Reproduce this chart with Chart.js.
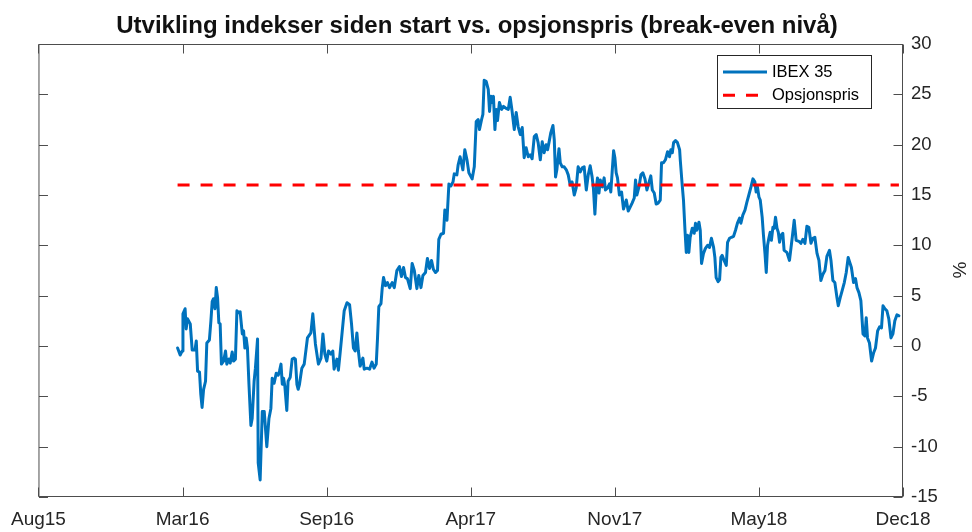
<!DOCTYPE html>
<html>
<head>
<meta charset="utf-8">
<title>IBEX 35 vs opsjonspris</title>
<script src="https://cdn.jsdelivr.net/npm/chart.js@4.4.0/dist/chart.umd.min.js"></script>
<style>
  html, body { margin: 0; padding: 0; background: #fff; }
</style>
</head>
<body>
<canvas id="chart" width="972" height="532"></canvas>
<script>
// x values are months counted from the Aug15 tick
const tickLabels = ["Aug15", "Mar16", "Sep16", "Apr17", "Nov17", "May18", "Dec18"];
const xMin = -0.08;
const xMax = 40.13;

const breakEvenLevel = 16;
const breakEvenSpan = [6.39, 39.94];

const months = [
  6.39, 6.51, 6.60, 6.64, 6.74, 6.79, 6.85, 6.98, 7.07, 7.20, 7.26, 7.32, 7.41, 7.47, 7.53,
  7.60, 7.69, 7.75, 7.87, 7.94, 8.00, 8.06, 8.13, 8.19, 8.25, 8.31, 8.37, 8.43, 8.53, 8.62,
  8.68, 8.78, 8.84, 8.93, 8.99, 9.08, 9.15, 9.24, 9.30, 9.40, 9.46, 9.52, 9.58, 9.64, 9.71,
  9.80, 9.86, 9.95, 10.01, 10.11, 10.14, 10.23, 10.33, 10.42, 10.54, 10.64, 10.73, 10.79, 10.88, 10.98,
  11.07, 11.13, 11.20, 11.26, 11.32, 11.38, 11.47, 11.53, 11.63, 11.72, 11.81, 11.87, 11.94, 12.00, 12.06,
  12.17, 12.28, 12.43, 12.59, 12.68, 12.80, 12.94, 13.06, 13.15, 13.24, 13.33, 13.41, 13.52, 13.61, 13.67,
  13.80, 13.87, 13.95, 14.05, 14.14, 14.27, 14.39, 14.48, 14.57, 14.65, 14.73, 14.80, 14.88, 15.01, 15.07,
  15.20, 15.32, 15.43, 15.53, 15.63, 15.69, 15.75, 15.85, 15.91, 15.97, 16.06, 16.15, 16.25, 16.37, 16.47,
  16.59, 16.71, 16.80, 16.90, 16.99, 17.08, 17.21, 17.30, 17.40, 17.52, 17.61, 17.71, 17.80, 17.92, 18.01,
  18.11, 18.20, 18.29, 18.39, 18.48, 18.54, 18.64, 18.76, 18.82, 18.92, 19.01, 19.10, 19.20, 19.26, 19.38,
  19.44, 19.53,
  19.66, 19.75, 19.85, 19.94, 20.09, 20.19, 20.28, 20.37, 20.43, 20.53, 20.59, 20.65, 20.74, 20.84, 20.90,
  20.96, 21.02, 21.08, 21.15, 21.21, 21.27, 21.36, 21.46, 21.55, 21.67, 21.77, 21.86, 21.95, 22.05, 22.14,
  22.23, 22.33, 22.42, 22.51, 22.60, 22.70, 22.79, 22.88, 22.98, 23.07, 23.16, 23.26, 23.35, 23.44, 23.53,
  23.60, 23.69, 23.75, 23.85, 23.91, 23.97, 24.03, 24.13, 24.19, 24.28, 24.37, 24.47, 24.56, 24.65, 24.74,
  24.84, 24.93, 25.02, 25.12, 25.21, 25.30, 25.40, 25.49, 25.58, 25.67, 25.73, 25.80, 25.86, 25.92, 25.99,
  26.05, 26.14, 26.23, 26.29, 26.39, 26.48, 26.54, 26.60, 26.67, 26.73, 26.79, 26.85, 26.94, 27.04,
  27.13, 27.26, 27.35, 27.44, 27.53, 27.63, 27.69, 27.75, 27.85, 27.94, 28.03, 28.13, 28.22, 28.31, 28.40,
  28.47, 28.56, 28.65, 28.74, 28.84, 28.90, 28.99, 29.08, 29.18, 29.27, 29.33, 29.40, 29.46, 29.55, 29.64,
  29.74, 29.77, 29.86, 29.92, 29.99, 30.05, 30.11, 30.17, 30.23, 30.33, 30.42, 30.48, 30.54, 30.64, 30.70,
  30.76, 30.85, 30.94, 31.04, 31.13, 31.22, 31.32, 31.38, 31.44, 31.53, 31.60, 31.66, 31.72, 31.81, 31.91,
  31.97, 32.06, 32.15, 32.25, 32.34, 32.43, 32.53, 32.59, 32.68, 32.78, 32.87, 32.96, 33.06, 33.15, 33.24,
  33.30, 33.36, 33.43, 33.49, 33.58, 33.64, 33.71, 33.77, 33.83, 33.89, 33.95, 34.01, 34.08, 34.14, 34.20,
  34.27, 34.33, 34.39,
  34.45, 34.54, 34.60, 34.73, 34.85, 34.98, 35.07, 35.16, 35.29, 35.38, 35.47, 35.57, 35.66, 35.75, 35.85,
  35.94, 36.03, 36.13, 36.22, 36.31, 36.40, 36.50, 36.59, 36.71, 36.78, 36.87, 36.96, 37.06, 37.12, 37.21,
  37.30, 37.40, 37.49, 37.58, 37.67, 37.73, 37.83, 37.92, 37.99, 38.08, 38.17, 38.27, 38.36, 38.42, 38.48,
  38.57, 38.67, 38.76, 38.85, 38.95, 39.04, 39.13, 39.20, 39.29, 39.38, 39.47, 39.57, 39.66, 39.75, 39.85,
  39.94
];

// IBEX 35, % change since start
const ibex = [
  -0.2, -0.9, -0.5, 3.2, 3.7, 1.7, 2.7, 2.2, -0.4, -0.4, 0.5, -2.5, -2.6, -4.8, -6.1,
  -4.3, -3.5, 0.3, 0.6, 2.5, 4.4, 4.7, 3.7, 5.8, 4.8, 2.3, 2.2, -1.8, -1.5, -0.5,
  -1.8, -1.3, -1.7, -0.6, -1.5, -1.3, 3.5, 3.3, 3.4, 1.2, 1.5, -0.2, 0.8, -0.2, -3.8,
  -7.9, -7.2, -3.5, -2.2, 0.7, -11.6, -13.3, -6.5, -6.5, -10.0, -7.2, -6.2, -3.2, -3.7, -2.7,
  -2.9, -2.5, -1.8, -3.8, -3.2, -4.0, -6.4, -3.5, -3.1, -1.3, -1.2, -1.3, -3.8, -4.3, -3.8,
  -2.2, -1.8, 0.8, 1.3, 3.2, 0.2, -1.8, -1.2, 1.2, -0.8, -1.5, -0.5, -0.8, -0.5, -2.3,
  -1.3, -2.4, -0.7, 1.5, 3.5, 4.3, 4.1, 2.2, -0.2, -0.5, 1.3, -0.5, -2.0, -1.2, -2.3,
  -2.2, -2.3, -1.6, -2.2, -1.8, 0.8, 3.9, 4.2, 5.8, 6.8, 6.0, 6.3, 5.8, 6.3, 5.8,
  7.5, 7.9, 6.9, 7.8, 6.8, 6.7, 5.7, 8.2, 7.5, 5.7, 7.0, 5.8, 7.0, 7.3, 8.7,
  7.7, 8.5, 7.6, 7.3, 7.5, 10.6, 11.1, 11.2, 13.5, 12.5, 16.1, 15.9, 16.3, 17.1, 17.0,
  18.0, 18.8,
  17.5, 19.5, 18.5, 17.2, 16.6, 17.8, 22.3, 22.5, 21.5, 22.5, 23.0, 26.4, 26.3, 25.5, 23.3,
  24.8, 24.2, 24.8, 21.5, 23.5, 22.4, 24.2, 23.5, 23.8, 23.6, 23.5, 24.7, 23.3, 21.5, 23.2,
  21.8, 21.0, 21.7, 18.7, 19.7, 18.8, 19.0, 18.6, 20.8, 21.0, 20.2, 18.5, 20.3, 19.2, 20.0,
  19.5, 20.5, 21.2, 21.9, 20.5, 16.8, 17.5, 19.6, 18.2, 17.8, 17.8, 17.5, 17.0, 16.0, 16.3,
  15.0, 15.7, 17.8, 17.3, 17.7, 17.8, 15.5, 17.0, 17.9, 16.8, 15.7, 13.1, 15.5, 16.7, 15.2,
  16.5, 15.8, 16.7, 15.5, 15.7, 16.1, 15.3, 17.2, 19.4, 18.7, 17.2, 16.7, 15.0, 15.3,
  13.6, 14.5, 13.4, 13.8, 14.2, 14.7, 16.5, 15.0, 15.8, 17.0, 17.2, 16.6, 15.5, 16.2, 16.9,
  15.5, 15.2, 14.1, 14.2, 14.5, 18.2, 18.2, 18.5, 19.3, 18.8, 19.5, 19.2, 20.2, 20.4, 20.2,
  19.5, 18.5, 16.0, 14.5, 11.5, 9.3, 11.0, 9.3, 10.8, 11.7, 11.2, 12.2, 11.5, 12.3, 11.5,
  8.2, 9.2, 9.7, 10.0, 9.8, 10.7, 9.8, 8.8, 6.8, 6.4, 6.6, 8.8, 9.0, 8.5, 8.0,
  10.3, 10.7, 10.8, 10.9, 11.5, 12.2, 12.7, 12.2, 13.0, 13.5, 14.3, 15.0, 15.8, 16.6, 16.3,
  15.3, 15.8, 14.8, 14.5, 12.8, 11.0, 9.2, 7.3, 10.0, 10.7, 11.3, 10.5, 11.8, 11.7, 12.8,
  11.7, 11.3, 10.3,
  11.0, 11.2, 9.5, 9.3, 8.5, 10.8, 12.5, 10.5, 10.4, 10.2, 10.6, 10.2, 11.9, 11.8, 10.2,
  10.7, 10.8, 9.2, 8.5, 6.5, 7.1, 7.5, 8.9, 9.5, 8.5, 6.5, 6.3, 4.8, 4.0, 4.8,
  5.5, 6.3, 7.3, 8.8, 8.2, 7.8, 6.3, 6.7, 5.8, 5.3, 4.5, 1.2, 1.0, 2.8, 0.8,
  0.3, -1.5, -0.7, -0.2, 1.5, 1.9, 1.8, 4.0, 3.7, 3.5, 2.7, 0.8, 1.2, 2.5, 3.1,
  3.0
];

const font = "'Liberation Sans', Arial, Helvetica, sans-serif";
const textColor = "#262626";
const axisColor = "#4d4d4d";

const n = Math.min(months.length, ibex.length);
const ibexPoints = months.slice(0, n).map((m, i) => ({ x: m, y: ibex[i] }));
const breakEvenPoints = breakEvenSpan.map((m) => ({ x: m, y: breakEvenLevel }));

// box, inward ticks, title, legend and y label, MATLAB style
const frame = {
  id: "frame",
  afterDraw(chart) {
    const { ctx, chartArea: a, scales } = chart;
    const L = a.left + 0.5, R = a.right - 0.5, T = a.top + 0.5, B = a.bottom - 0.5;
    ctx.save();
    ctx.strokeStyle = axisColor;
    ctx.lineWidth = 1;
    ctx.strokeRect(L, T, R - L, B - T);

    const tl = 9;
    ctx.beginPath();
    scales.x.ticks.forEach((t) => {
      const px = Math.round(scales.x.getPixelForValue(t.value)) + 0.5;
      ctx.moveTo(px, B); ctx.lineTo(px, B - tl);
      ctx.moveTo(px, T); ctx.lineTo(px, T + tl);
    });
    scales.y.ticks.forEach((t) => {
      const py = Math.round(scales.y.getPixelForValue(t.value)) + 0.5;
      ctx.moveTo(L, py); ctx.lineTo(L + tl, py);
      ctx.moveTo(R, py); ctx.lineTo(R - tl, py);
    });
    ctx.stroke();

    // title
    ctx.fillStyle = "#111";
    ctx.font = "bold 24px " + font;
    ctx.textAlign = "center";
    ctx.textBaseline = "alphabetic";
    ctx.fillText("Utvikling indekser siden start vs. opsjonspris (break-even nivå)", 477, 33);

    // y axis label
    ctx.save();
    ctx.translate(961, 270);
    ctx.rotate(-Math.PI / 2);
    ctx.fillStyle = textColor;
    ctx.font = "19px " + font;
    ctx.textBaseline = "middle";
    ctx.fillText("%", 0, 0);
    ctx.restore();

    // legend
    const lx = 717.5, ly = 55.5, lw = 154, lh = 53;
    ctx.fillStyle = "#fff";
    ctx.fillRect(lx, ly, lw, lh);
    ctx.strokeStyle = "#262626";
    ctx.strokeRect(lx, ly, lw, lh);
    chart.data.datasets.forEach((ds, i) => {
      const y = 72 + i * 23.3;
      ctx.strokeStyle = ds.borderColor;
      ctx.lineWidth = ds.borderWidth;
      ctx.setLineDash(ds.borderDash || []);
      ctx.beginPath();
      ctx.moveTo(723, y);
      ctx.lineTo(767, y);
      ctx.stroke();
      ctx.setLineDash([]);
      ctx.fillStyle = "#000";
      ctx.font = "16.5px " + font;
      ctx.textAlign = "left";
      ctx.textBaseline = "middle";
      ctx.fillText(ds.label, 772, y);
    });
    ctx.restore();
  }
};

new Chart(document.getElementById("chart"), {
  type: "line",
  data: {
    datasets: [
      {
        label: "IBEX 35",
        data: ibexPoints,
        borderColor: "#0072BD",
        borderWidth: 3,
        pointRadius: 0,
        tension: 0,
        borderJoinStyle: "round",
        borderCapStyle: "round",
        order: 1
      },
      {
        label: "Opsjonspris",
        data: breakEvenPoints,
        borderColor: "#FF0000",
        borderWidth: 3,
        borderDash: [12, 11],
        pointRadius: 0,
        order: 0
      }
    ]
  },
  options: {
    responsive: false,
    animation: false,
    layout: { padding: { left: 38, top: 44, right: 0, bottom: 0 } },
    plugins: {
      legend: { display: false },
      title: { display: false },
      tooltip: { enabled: false }
    },
    scales: {
      x: {
        type: "linear",
        min: xMin,
        max: xMax,
        grid: { display: false, drawTicks: false },
        border: { display: false },
        afterBuildTicks: (s) => {
          s.ticks = tickLabels.map((_, i) => ({ value: xMin + i * (xMax - xMin) / (tickLabels.length - 1) }));
        },
        afterFit: (s) => { s.height = 35; },
        ticks: {
          autoSkip: false,
          maxRotation: 0,
          padding: 11,
          color: textColor,
          font: { family: font, size: 19 },
          callback: (v, i) => tickLabels[i]
        }
      },
      y: {
        position: "right",
        min: -15,
        max: 30,
        grid: { display: false, drawTicks: false },
        border: { display: false },
        afterFit: (s) => { s.width = 69; },
        ticks: {
          stepSize: 5,
          padding: 8,
          color: textColor,
          font: { family: font, size: 18.5 }
        }
      }
    }
  },
  plugins: [frame]
});
</script>
</body>
</html>
